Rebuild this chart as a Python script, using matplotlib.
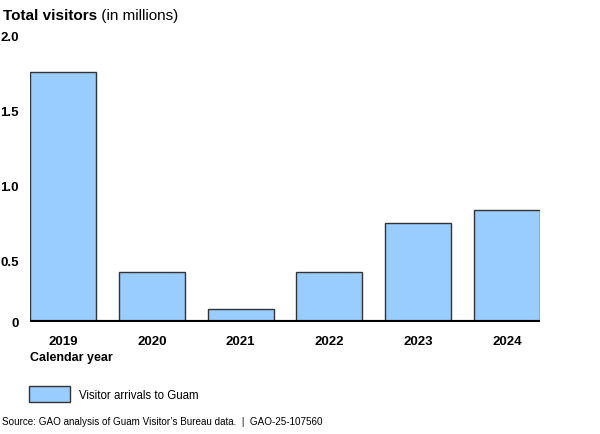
#!/usr/bin/env python3
# Guam visitor arrivals bar chart, GAO style
from matplotlib import pyplot as plt
from matplotlib.patches import Patch
from matplotlib.transforms import ScaledTranslation

years = ["2019", "2020", "2021", "2022", "2023", "2024"]
visitors = [1.664, 0.333, 0.084, 0.333, 0.66, 0.742]  # millions
yTicks = [0, 0.5, 1.0, 1.5, 2.0]
yTickLabels = ["0", "0.5", "1.0", "1.5", "2.0"]

plt.rcParams["font.family"] = ["Liberation Sans", "DejaVu Sans"]

fig = plt.figure(figsize=(6, 4.35), dpi=100)
# axes placed in pixel terms of the 600x435 canvas
ax = fig.add_axes([30/600, 1-322.5/435, 510/600, 300/435])

xPos = range(len(years))
ax.bar(xPos, visitors, width=0.742, color="#99ccff", edgecolor="#333333", linewidth=1, zorder=2)
ax.axhline(0, color="black", linewidth=3, zorder=3)

ax.set_xlim(-0.371, len(years)-1+0.371)
ax.set_ylim(0, 2.0)
for s in ax.spines.values():
    s.set_visible(False)

ax.set_xticks(list(xPos))
ax.set_xticklabels(years, fontweight="bold", fontsize=9.5)
ax.set_yticks(yTicks)
ax.set_yticklabels(yTickLabels, fontweight="bold", fontsize=9.5)
ax.tick_params(axis="both", length=0)
ax.tick_params(axis="x", pad=9.5)
ax.tick_params(axis="y", pad=8)

# the original sets the non-zero value labels a little below their gridline
shift = ScaledTranslation(0, -14/100, fig.dpi_scale_trans)
for lbl in ax.get_yticklabels():
    if lbl.get_text() != "0":
        lbl.set_transform(lbl.get_transform() + shift)

fig.text(30/600, 1-358/435, "Calendar year", fontweight="bold", fontsize=9, va="center", ha="left")

# title: bold part then regular part
t1 = fig.text(3/600, 1-16/435, "Total visitors", fontweight="bold", fontsize=11, va="center", ha="left")
fig.canvas.draw()
bb = t1.get_window_extent(fig.canvas.get_renderer())
fig.text(bb.x1/600, 1-16/435, " (in millions)", fontsize=11, va="center", ha="left")

# legend
leg = fig.legend(handles=[Patch(facecolor="#99ccff", edgecolor="#333333", linewidth=1, label="Visitor arrivals to Guam")],
                 loc="center left", bbox_to_anchor=(23/600, 1-395/435), frameon=False, fontsize=8.3,
                 handlelength=3.55, handleheight=1.75, handletextpad=0.8, borderpad=0)

fig.text(2/600, 1-422/435, "Source: GAO analysis of Guam Visitor\u2019s Bureau data.  |  GAO-25-107560",
         fontsize=7.1, va="center", ha="left")

fig.savefig("out.png", dpi=100)
plt.close(fig)
